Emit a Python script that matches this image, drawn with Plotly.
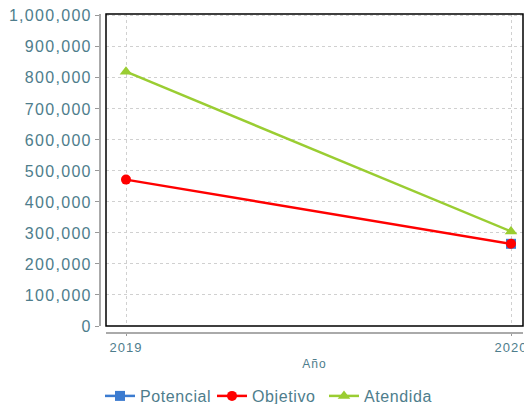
import plotly.graph_objects as go

years = [2019, 2020]
potencial = [None, 265000]
objetivo = [472000, 265000]
atendida = [820000, 305000]
y_ticks = [0, 100000, 200000, 300000, 400000, 500000, 600000, 700000, 800000, 900000, 1000000]
y_labels = ["0", "100,000", "200,000", "300,000", "400,000", "500,000", "600,000",
            "700,000", "800,000", "900,000", "1,000,000"]

W, H = 524, 404
ml, mr, mt, mb = 100, 1, 14, 71
pw, ph = W - ml - mr, H - mt - mb
dx0 = 6 / pw
dy0 = 7 / ph

tick_color = "#4e7d8c"
font_fam = "Liberation Sans, Arial, sans-serif"

fig = go.Figure()
fig.add_trace(go.Scatter(x=years, y=potencial, name="Potencial", mode="lines+markers",
                         line=dict(color="#3b7bd0", width=2.5),
                         marker=dict(symbol="square", size=10, color="#3b7bd0")))
fig.add_trace(go.Scatter(x=years, y=objetivo, name="Objetivo", mode="lines+markers",
                         line=dict(color="#ff0000", width=2.5),
                         marker=dict(symbol="circle", size=10, color="#ff0000")))
fig.add_trace(go.Scatter(x=years, y=atendida, name="Atendida", mode="lines+markers",
                         line=dict(color="#9acd32", width=2.5),
                         marker=dict(symbol="triangle-up", size=11, color="#9acd32")))

fig.update_layout(
    width=W, height=H,
    margin=dict(l=ml, r=mr, t=mt, b=mb, pad=0, autoexpand=False),
    paper_bgcolor="white", plot_bgcolor="white",
    font=dict(family=font_fam, color=tick_color),
    xaxis=dict(
        domain=[dx0, 1], anchor="free", position=0, automargin=False,
        range=[2019 - 20 / 385, 2020 + 12 / 385],
        tickvals=years, ticktext=[str(y) for y in years],
        tickfont=dict(size=13, color=tick_color), ticklabeloverflow="allow",
        ticks="outside", ticklen=2, tickcolor="#999999",
        showline=True, linecolor="#aaaaaa", linewidth=2,
        showgrid=True, gridcolor="#d0d0d0", griddash="3px,3px", gridwidth=1,
        zeroline=False,
        title=dict(text="Año", font=dict(size=12, color=tick_color), standoff=5),
    ),
    yaxis=dict(
        domain=[dy0, 1], anchor="free", position=0, automargin=False,
        range=[0, 1006000],
        tickvals=y_ticks, ticktext=y_labels,
        tickfont=dict(size=16, color=tick_color),
        ticks="outside", ticklen=4, tickcolor="#999999",
        showline=True, linecolor="#aaaaaa", linewidth=2,
        showgrid=True, gridcolor="#d0d0d0", griddash="3px,3px", gridwidth=1,
        zeroline=False,
    ),
    legend=dict(orientation="h", x=0, xanchor="left", y=-63 / ph, yanchor="middle",
                font=dict(size=16, color=tick_color), itemwidth=30, tracegroupgap=0,
                entrywidth=67, entrywidthmode="pixels"),
    showlegend=True,
    shapes=[dict(type="rect", xref="paper", yref="paper", x0=dx0, x1=1, y0=dy0, y1=1,
                 line=dict(color="black", width=1.5), layer="above")],
)

post = """
document.body.style.margin='0';
var s=document.createElement('style');
s.textContent='.ytick text{letter-spacing:1.3px} .xtick text{letter-spacing:1px} .legendtext{letter-spacing:0.6px} .g-xtitle text{letter-spacing:1px}';
document.head.appendChild(s);
"""

fig.write_html("out.html", post_script=post, config={"displayModeBar": False})
